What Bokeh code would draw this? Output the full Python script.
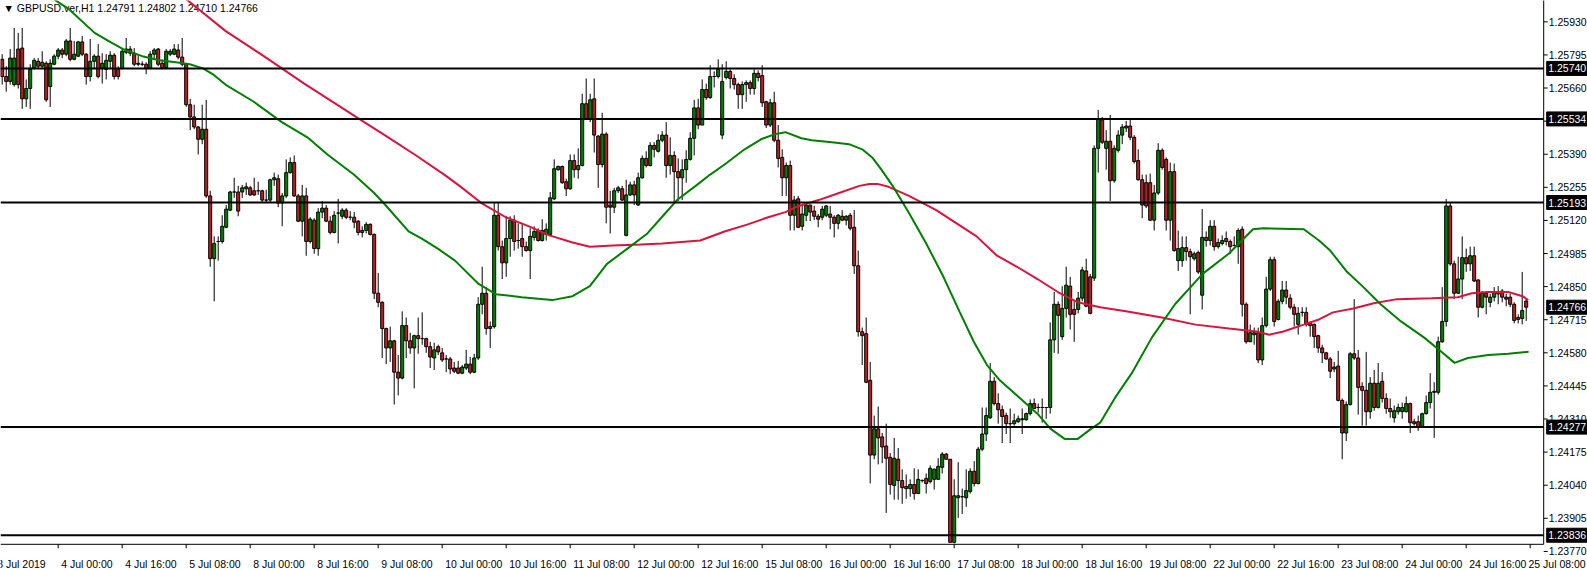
from bokeh.plotting import figure
from bokeh.models import Range1d, ColumnDataSource
from bokeh.core.properties import value
from bokeh.embed import file_html
from bokeh.resources import INLINE

symbol_title = "\u25bc GBPUSD.ver,H1  1.24791 1.24802 1.24710 1.24766"
time_labels = ["3 Jul 2019", "4 Jul 00:00", "4 Jul 16:00", "5 Jul 08:00", "8 Jul 00:00",
               "8 Jul 16:00", "9 Jul 08:00", "10 Jul 00:00", "10 Jul 16:00", "11 Jul 08:00",
               "12 Jul 00:00", "12 Jul 16:00", "15 Jul 08:00", "16 Jul 00:00", "16 Jul 16:00",
               "17 Jul 08:00", "18 Jul 00:00", "18 Jul 16:00", "19 Jul 08:00", "22 Jul 00:00",
               "22 Jul 16:00", "23 Jul 08:00", "24 Jul 00:00", "24 Jul 16:00", "25 Jul 08:00"]
time_ticks = [-16, 0, 16, 32, 48, 64, 80, 96, 112, 128, 144, 160, 176, 192, 208, 224, 240,
              256, 272, 288, 304, 320, 336, 352, 368]
price_ticks = [1.25930, 1.25795, 1.25660, 1.25525, 1.25390, 1.25255, 1.25120, 1.24985,
               1.24850, 1.24715, 1.24580, 1.24445, 1.24310, 1.24175, 1.24040, 1.23905, 1.23770]
level_lines = [1.25740, 1.25534, 1.25193, 1.24277, 1.23836]
bid_price = 1.24766

opens = [
    1.25777, 1.25707, 1.25687, 1.25674, 1.25819, 1.25823, 1.25616, 1.25658, 1.25740, 1.25769,
    1.25749, 1.25761, 1.25666, 1.25757, 1.25790, 1.25815, 1.25798, 1.25852, 1.25777, 1.25790,
    1.25848, 1.25798, 1.25707, 1.25769, 1.25790, 1.25740, 1.25736, 1.25769, 1.25794, 1.25740,
    1.25740, 1.25806, 1.25819, 1.25802, 1.25761, 1.25757, 1.25757, 1.25740, 1.25798, 1.25819,
    1.25761, 1.25744, 1.25798, 1.25798, 1.25815, 1.25786, 1.25757, 1.25592, 1.25542, 1.25501,
    1.25451, 1.25492, 1.25220, 1.24964,
    1.25034, 1.25034, 1.25092, 1.25162, 1.25236, 1.25236, 1.25236, 1.25249, 1.25253, 1.25241,
    1.25241, 1.25241, 1.25203, 1.25203, 1.25286, 1.25290, 1.25191, 1.25220, 1.25315, 1.25356,
    1.25220, 1.25117, 1.25220, 1.25034, 1.25121, 1.25005, 1.25154, 1.25170, 1.25117, 1.25071,
    1.25150, 1.25137, 1.25162, 1.25133, 1.25133, 1.25117, 1.25079, 1.25079, 1.25104, 1.25063,
    1.24823, 1.24786, 1.24679, 1.24600, 1.24629, 1.24501, 1.24477, 1.24691, 1.24629, 1.24600,
    1.24650, 1.24638, 1.24638, 1.24605,
    1.24559, 1.24605, 1.24580, 1.24555, 1.24555, 1.24518, 1.24518, 1.24497, 1.24518, 1.24534,
    1.24501, 1.24559, 1.24778, 1.24823, 1.24679, 1.24687, 1.25141, 1.25013, 1.24947, 1.25046,
    1.25121, 1.25038, 1.25046, 1.25013, 1.24997, 1.25051, 1.25079, 1.25038, 1.25063, 1.25063,
    1.25208, 1.25327, 1.25340, 1.25278, 1.25249, 1.25364, 1.25327, 1.25344, 1.25596, 1.25534,
    1.25616, 1.25464, 1.25348, 1.25472, 1.25183, 1.25174, 1.25241, 1.25249, 1.25059, 1.25224,
    1.25265, 1.25183, 1.25294, 1.25373,
    1.25344, 1.25426, 1.25402, 1.25447, 1.25468, 1.25344, 1.25385, 1.25319, 1.25294, 1.25327,
    1.25369, 1.25455, 1.25579, 1.25509, 1.25654, 1.25621, 1.25707, 1.25707, 1.25468, 1.25703,
    1.25728, 1.25699, 1.25674, 1.25633, 1.25674, 1.25682, 1.25658, 1.25720, 1.25711, 1.25604,
    1.25509, 1.25600, 1.25447, 1.25377, 1.25294, 1.25344, 1.25141, 1.25208, 1.25096, 1.25141,
    1.25183, 1.25158, 1.25137, 1.25133, 1.25141, 1.25146, 1.25133, 1.25108, 1.25137, 1.25121,
    1.25141, 1.25092, 1.24935, 1.24666,
    1.24658, 1.24468, 1.24163, 1.24270, 1.24237, 1.24200, 1.24154, 1.24039, 1.24146, 1.24059,
    1.24035, 1.24026, 1.24043, 1.24006, 1.24059, 1.24068, 1.24055, 1.24064, 1.24064, 1.24113,
    1.24167, 1.24146, 1.23807, 1.23989, 1.23993, 1.23989, 1.24014, 1.24097, 1.24047, 1.24187,
    1.24249, 1.24315, 1.24464, 1.24373, 1.24348, 1.24324, 1.24291, 1.24291, 1.24299, 1.24307,
    1.24307, 1.24332, 1.24373, 1.24357, 1.24357, 1.24357, 1.24357, 1.24633, 1.24778, 1.24646,
    1.24761, 1.24852, 1.24757, 1.24757,
    1.24803, 1.24914, 1.24890, 1.24885, 1.25414, 1.25530, 1.25414, 1.25443, 1.25282, 1.25406,
    1.25468, 1.25505, 1.25505, 1.25459, 1.25364, 1.25286, 1.25274, 1.25274, 1.25121, 1.25232,
    1.25406, 1.25369, 1.25121, 1.25319, 1.24956, 1.24956, 1.25009, 1.24993, 1.24964, 1.24989,
    1.24815, 1.25051, 1.25038, 1.25096, 1.25013, 1.25026, 1.25046, 1.25034, 1.25018, 1.25013,
    1.25084, 1.24778, 1.24625, 1.24654, 1.24662, 1.24551, 1.24691, 1.24840, 1.24960, 1.24716,
    1.24790, 1.24836, 1.24803, 1.24766,
    1.24696, 1.24745, 1.24745, 1.24700, 1.24696, 1.24650, 1.24600, 1.24580, 1.24555, 1.24514,
    1.24526, 1.24386, 1.24253, 1.24369, 1.24576, 1.24559, 1.24443, 1.24427, 1.24340, 1.24456,
    1.24357, 1.24464, 1.24394, 1.24353, 1.24315, 1.24340, 1.24340, 1.24340, 1.24373, 1.24299,
    1.24299, 1.24278, 1.24332, 1.24377, 1.24419, 1.24419, 1.24625, 1.24708, 1.25179, 1.24943,
    1.24823, 1.24881, 1.24968, 1.24943, 1.24976, 1.24877, 1.24766, 1.24823, 1.24786, 1.24807,
    1.24828, 1.24832, 1.24807, 1.24807, 1.24778, 1.24724, 1.24720, 1.24791,
]

highs = [
    1.25798, 1.25749, 1.25819, 1.25905, 1.25885, 1.25905, 1.25695, 1.25757, 1.25782, 1.25782,
    1.25810, 1.25769, 1.25777, 1.25798, 1.25823, 1.25823, 1.25860, 1.25905, 1.25852, 1.25852,
    1.25872, 1.25802, 1.25860, 1.25798, 1.25839, 1.25802, 1.25798, 1.25810, 1.25802, 1.25749,
    1.25823, 1.25864, 1.25831, 1.25823, 1.25798, 1.25769, 1.25765, 1.25810, 1.25823, 1.25823,
    1.25777, 1.25819, 1.25819, 1.25839, 1.25839, 1.25864, 1.25761, 1.25616, 1.25592, 1.25505,
    1.25592, 1.25612, 1.25241, 1.25055,
    1.25055, 1.25141, 1.25183, 1.25241, 1.25294, 1.25261, 1.25265, 1.25274, 1.25261, 1.25294,
    1.25278, 1.25245, 1.25245, 1.25290, 1.25315, 1.25307, 1.25232, 1.25369, 1.25377, 1.25385,
    1.25228, 1.25265, 1.25253, 1.25133, 1.25129, 1.25170, 1.25199, 1.25183, 1.25137, 1.25158,
    1.25208, 1.25170, 1.25170, 1.25158, 1.25154, 1.25121, 1.25096, 1.25113, 1.25108, 1.25067,
    1.24906, 1.24790, 1.24683, 1.24687, 1.24633, 1.24571, 1.24749, 1.24724, 1.24662, 1.24654,
    1.24724, 1.24745, 1.24642, 1.24625,
    1.24621, 1.24613, 1.24600, 1.24571, 1.24563, 1.24543, 1.24547, 1.24530, 1.24592, 1.24563,
    1.24576, 1.24807, 1.24931, 1.24848, 1.24708, 1.25191, 1.25191, 1.25038, 1.25137, 1.25137,
    1.25141, 1.25108, 1.25104, 1.25034, 1.25088, 1.25096, 1.25088, 1.25125, 1.25108, 1.25236,
    1.25369, 1.25344, 1.25344, 1.25290, 1.25389, 1.25389, 1.25414, 1.25637, 1.25699, 1.25637,
    1.25699, 1.25468, 1.25559, 1.25480, 1.25241, 1.25253, 1.25261, 1.25261, 1.25286, 1.25278,
    1.25282, 1.25315, 1.25385, 1.25402,
    1.25439, 1.25439, 1.25472, 1.25484, 1.25521, 1.25459, 1.25402, 1.25373, 1.25369, 1.25406,
    1.25480, 1.25612, 1.25616, 1.25695, 1.25678, 1.25753, 1.25728, 1.25777, 1.25757, 1.25769,
    1.25736, 1.25716, 1.25682, 1.25687, 1.25691, 1.25691, 1.25736, 1.25732, 1.25753, 1.25608,
    1.25616, 1.25645, 1.25509, 1.25410, 1.25356, 1.25364, 1.25220, 1.25220, 1.25183, 1.25191,
    1.25183, 1.25179, 1.25146, 1.25179, 1.25183, 1.25179, 1.25141, 1.25146, 1.25162, 1.25141,
    1.25150, 1.25162, 1.24997, 1.24683,
    1.24724, 1.24543, 1.24324, 1.24361, 1.24253, 1.24291, 1.24171, 1.24233, 1.24192, 1.24105,
    1.24084, 1.24064, 1.24109, 1.24105, 1.24064, 1.24088, 1.24121, 1.24109, 1.24150, 1.24175,
    1.24171, 1.24146, 1.24064, 1.24134, 1.24026, 1.24105, 1.24109, 1.24138, 1.24196, 1.24357,
    1.24357, 1.24538, 1.24481, 1.24415, 1.24365, 1.24336, 1.24353, 1.24332, 1.24324, 1.24353,
    1.24336, 1.24390, 1.24394, 1.24373, 1.24394, 1.24357, 1.24704, 1.24828, 1.24790, 1.24852,
    1.24931, 1.24890, 1.24790, 1.24828,
    1.24931, 1.24964, 1.24902, 1.25426, 1.25571, 1.25542, 1.25488, 1.25550, 1.25426, 1.25488,
    1.25513, 1.25526, 1.25534, 1.25468, 1.25410, 1.25307, 1.25307, 1.25311, 1.25265, 1.25435,
    1.25414, 1.25377, 1.25356, 1.25352, 1.25079, 1.25055, 1.25055, 1.25005, 1.24993, 1.24997,
    1.25166, 1.25075, 1.25121, 1.25121, 1.25046, 1.25059, 1.25075, 1.25042, 1.25055, 1.25088,
    1.25096, 1.24786, 1.24695, 1.24683, 1.24683, 1.24724, 1.24890, 1.24972, 1.24972, 1.24799,
    1.24873, 1.24873, 1.24819, 1.24778,
    1.24766, 1.24766, 1.24766, 1.24708, 1.24700, 1.24654, 1.24613, 1.24584, 1.24563, 1.24543,
    1.24588, 1.24394, 1.24382, 1.24584, 1.24799, 1.24592, 1.24460, 1.24584, 1.24481, 1.24510,
    1.24538, 1.24501, 1.24415, 1.24394, 1.24365, 1.24373, 1.24377, 1.24402, 1.24377, 1.24311,
    1.24324, 1.24336, 1.24406, 1.24497, 1.24460, 1.24646, 1.24848, 1.25208, 1.25191, 1.24956,
    1.24972, 1.25055, 1.25005, 1.25013, 1.25013, 1.24881, 1.24832, 1.24832, 1.24820, 1.24848,
    1.24852, 1.24840, 1.24820, 1.24820, 1.24786, 1.24737, 1.24910, 1.24802,
]

lows = [
    1.25674, 1.25645, 1.25674, 1.25666, 1.25658, 1.25575, 1.25583, 1.25575, 1.25736, 1.25740,
    1.25740, 1.25604, 1.25583, 1.25753, 1.25777, 1.25782, 1.25790, 1.25769, 1.25773, 1.25786,
    1.25790, 1.25674, 1.25687, 1.25740, 1.25699, 1.25678, 1.25695, 1.25740, 1.25695, 1.25695,
    1.25736, 1.25798, 1.25790, 1.25749, 1.25749, 1.25749, 1.25716, 1.25736, 1.25782, 1.25749,
    1.25736, 1.25740, 1.25790, 1.25794, 1.25777, 1.25749, 1.25583, 1.25488, 1.25492, 1.25389,
    1.25431, 1.25212, 1.24931, 1.24790,
    1.24956, 1.25026, 1.25088, 1.25158, 1.25212, 1.25137, 1.25212, 1.25224, 1.25220, 1.25220,
    1.25224, 1.25191, 1.25195, 1.25191, 1.25261, 1.25174, 1.25096, 1.25212, 1.25311, 1.25216,
    1.25113, 1.25055, 1.24976, 1.25026, 1.24984, 1.24976, 1.25129, 1.25113, 1.25063, 1.25067,
    1.25026, 1.25125, 1.25125, 1.25121, 1.25088, 1.25059, 1.25051, 1.25067, 1.25059, 1.24799,
    1.24766, 1.24559, 1.24534, 1.24543, 1.24369, 1.24406, 1.24472, 1.24559, 1.24576, 1.24435,
    1.24576, 1.24613, 1.24580, 1.24518,
    1.24510, 1.24571, 1.24543, 1.24501, 1.24493, 1.24497, 1.24493, 1.24493, 1.24510, 1.24493,
    1.24497, 1.24551, 1.24737, 1.24654, 1.24600, 1.24679, 1.24997, 1.24881, 1.24890, 1.24972,
    1.24997, 1.25005, 1.24972, 1.24993, 1.24881, 1.25038, 1.25034, 1.25034, 1.25038, 1.25055,
    1.25203, 1.25323, 1.25269, 1.25220, 1.25245, 1.25294, 1.25290, 1.25340, 1.25530, 1.25521,
    1.25397, 1.25253, 1.25336, 1.25108, 1.25067, 1.25150, 1.25232, 1.25199, 1.25055, 1.25220,
    1.25183, 1.25179, 1.25290, 1.25336,
    1.25340, 1.25377, 1.25397, 1.25439, 1.25294, 1.25307, 1.25195, 1.25199, 1.25203, 1.25274,
    1.25364, 1.25385, 1.25492, 1.25509, 1.25612, 1.25616, 1.25662, 1.25699, 1.25451, 1.25695,
    1.25658, 1.25654, 1.25575, 1.25575, 1.25604, 1.25633, 1.25633, 1.25687, 1.25583, 1.25497,
    1.25501, 1.25439, 1.25336, 1.25220, 1.25220, 1.25079, 1.25079, 1.25088, 1.25079, 1.25117,
    1.25117, 1.25121, 1.25092, 1.25121, 1.25133, 1.25084, 1.25051, 1.25084, 1.25117, 1.25100,
    1.25079, 1.24902, 1.24646, 1.24530,
    1.24456, 1.24047, 1.24146, 1.24125, 1.24130, 1.23927, 1.24002, 1.23981, 1.23981, 1.23964,
    1.23985, 1.23993, 1.23981, 1.24006, 1.24051, 1.24006, 1.24047, 1.24022, 1.24064, 1.24088,
    1.24146, 1.23807, 1.23803, 1.23907, 1.23923, 1.23952, 1.24006, 1.24035, 1.24043, 1.24179,
    1.24220, 1.24311, 1.24365, 1.24291, 1.24212, 1.24249, 1.24212, 1.24283, 1.24295, 1.24249,
    1.24303, 1.24324, 1.24353, 1.24336, 1.24295, 1.24311, 1.24332, 1.24580, 1.24576, 1.24633,
    1.24724, 1.24675, 1.24625, 1.24741,
    1.24790, 1.24766, 1.24737, 1.24873, 1.25315, 1.25431, 1.25327, 1.25199, 1.25274, 1.25397,
    1.25431, 1.25480, 1.25447, 1.25352, 1.25282, 1.25129, 1.25170, 1.25117, 1.25079, 1.25224,
    1.25327, 1.25079, 1.25038, 1.24993, 1.24914, 1.24931, 1.24956, 1.24737, 1.24956, 1.24902,
    1.24757, 1.25013, 1.25018, 1.24997, 1.25005, 1.25018, 1.25018, 1.24984, 1.25013, 1.24943,
    1.24728, 1.24617, 1.24625, 1.24613, 1.24538, 1.24530, 1.24683, 1.24832, 1.24687, 1.24712,
    1.24778, 1.24778, 1.24757, 1.24687,
    1.24654, 1.24728, 1.24687, 1.24646, 1.24600, 1.24580, 1.24538, 1.24551, 1.24477, 1.24501,
    1.24382, 1.24146, 1.24220, 1.24365, 1.24551, 1.24328, 1.24283, 1.24283, 1.24311, 1.24344,
    1.24353, 1.24377, 1.24332, 1.24315, 1.24295, 1.24328, 1.24311, 1.24336, 1.24253, 1.24283,
    1.24262, 1.24274, 1.24328, 1.24353, 1.24233, 1.24410, 1.24621, 1.24687, 1.24935, 1.24799,
    1.24820, 1.24799, 1.24910, 1.24914, 1.24869, 1.24724, 1.24761, 1.24737, 1.24766, 1.24790,
    1.24778, 1.24786, 1.24770, 1.24766, 1.24700, 1.24700, 1.24696, 1.24710,
]

closes = [
    1.25707, 1.25687, 1.25782, 1.25782, 1.25674, 1.25616, 1.25658, 1.25736, 1.25773, 1.25749,
    1.25765, 1.25612, 1.25761, 1.25790, 1.25815, 1.25798, 1.25852, 1.25777, 1.25798, 1.25848,
    1.25798, 1.25707, 1.25769, 1.25790, 1.25707, 1.25761, 1.25773, 1.25794, 1.25707, 1.25707,
    1.25810, 1.25819, 1.25802, 1.25757, 1.25757, 1.25757, 1.25740, 1.25798, 1.25815, 1.25757,
    1.25740, 1.25810, 1.25810, 1.25819, 1.25786, 1.25757, 1.25592, 1.25542, 1.25501, 1.25451,
    1.25492, 1.25220, 1.24964, 1.25026,
    1.25034, 1.25096, 1.25166, 1.25236, 1.25236, 1.25158, 1.25253, 1.25257, 1.25224, 1.25224,
    1.25241, 1.25203, 1.25203, 1.25286, 1.25294, 1.25191, 1.25220, 1.25315, 1.25356, 1.25220,
    1.25117, 1.25220, 1.25034, 1.25125, 1.25005, 1.25154, 1.25170, 1.25117, 1.25071, 1.25141,
    1.25150, 1.25162, 1.25133, 1.25133, 1.25113, 1.25071, 1.25071, 1.25104, 1.25063, 1.24823,
    1.24786, 1.24679, 1.24600, 1.24629, 1.24501, 1.24477, 1.24691, 1.24629, 1.24600, 1.24650,
    1.24638, 1.24638, 1.24605, 1.24563,
    1.24592, 1.24584, 1.24551, 1.24555, 1.24514, 1.24505, 1.24497, 1.24522, 1.24534, 1.24501,
    1.24559, 1.24778, 1.24823, 1.24679, 1.24687, 1.25141, 1.25013, 1.24947, 1.25046, 1.25121,
    1.25034, 1.25038, 1.25013, 1.24997, 1.25055, 1.25075, 1.25038, 1.25079, 1.25084, 1.25212,
    1.25331, 1.25340, 1.25274, 1.25249, 1.25364, 1.25327, 1.25344, 1.25596, 1.25534, 1.25612,
    1.25468, 1.25348, 1.25472, 1.25174, 1.25174, 1.25241, 1.25253, 1.25203, 1.25224, 1.25265,
    1.25224, 1.25294, 1.25373, 1.25344,
    1.25426, 1.25410, 1.25447, 1.25468, 1.25344, 1.25385, 1.25319, 1.25294, 1.25327, 1.25369,
    1.25455, 1.25579, 1.25509, 1.25654, 1.25621, 1.25707, 1.25707, 1.25736, 1.25687, 1.25728,
    1.25699, 1.25674, 1.25633, 1.25674, 1.25682, 1.25658, 1.25720, 1.25703, 1.25600, 1.25509,
    1.25600, 1.25447, 1.25373, 1.25294, 1.25344, 1.25141, 1.25203, 1.25092, 1.25146, 1.25183,
    1.25154, 1.25137, 1.25125, 1.25166, 1.25179, 1.25133, 1.25108, 1.25141, 1.25121, 1.25137,
    1.25088, 1.24935, 1.24666, 1.24650,
    1.24460, 1.24163, 1.24270, 1.24233, 1.24196, 1.24150, 1.24043, 1.24150, 1.24059, 1.24030,
    1.24026, 1.24043, 1.24006, 1.24064, 1.24059, 1.24047, 1.24109, 1.24105, 1.24117, 1.24167,
    1.24146, 1.23807, 1.23997, 1.23997, 1.23993, 1.24018, 1.24097, 1.24047, 1.24187, 1.24249,
    1.24324, 1.24464, 1.24373, 1.24348, 1.24320, 1.24291, 1.24291, 1.24303, 1.24311, 1.24311,
    1.24332, 1.24373, 1.24353, 1.24357, 1.24357, 1.24357, 1.24633, 1.24778, 1.24733, 1.24761,
    1.24856, 1.24737, 1.24737, 1.24803,
    1.24918, 1.24770, 1.24741, 1.25414, 1.25534, 1.25439, 1.25443, 1.25282, 1.25414, 1.25468,
    1.25501, 1.25497, 1.25459, 1.25360, 1.25286, 1.25183, 1.25179, 1.25121, 1.25232, 1.25406,
    1.25336, 1.25121, 1.25319, 1.24997, 1.25005, 1.25009, 1.24993, 1.24972, 1.24984, 1.24910,
    1.25051, 1.25038, 1.25096, 1.25013, 1.25030, 1.25038, 1.25034, 1.25013, 1.25018, 1.25079,
    1.24778, 1.24625, 1.24662, 1.24662, 1.24551, 1.24691, 1.24840, 1.24960, 1.24708, 1.24790,
    1.24836, 1.24807, 1.24766, 1.24737,
    1.24741, 1.24745, 1.24696, 1.24691, 1.24646, 1.24600, 1.24580, 1.24555, 1.24505, 1.24522,
    1.24386, 1.24253, 1.24369, 1.24576, 1.24559, 1.24439, 1.24427, 1.24340, 1.24456, 1.24357,
    1.24456, 1.24394, 1.24353, 1.24340, 1.24344, 1.24357, 1.24357, 1.24373, 1.24295, 1.24291,
    1.24278, 1.24332, 1.24377, 1.24419, 1.24423, 1.24625, 1.24708, 1.25179, 1.24943, 1.24823,
    1.24881, 1.24968, 1.24943, 1.24976, 1.24873, 1.24766, 1.24823, 1.24807, 1.24807, 1.24828,
    1.24820, 1.24807, 1.24799, 1.24778, 1.24712, 1.24716, 1.24753, 1.24766,
]

# moving averages read at sample bars (bar 0 = 4 Jul 00:00)
green_ma_bar = [-3, 2.5, 9.1, 13.4, 16.7, 21.0, 25.3, 29.4, 32.9, 36.2, 38.7, 41.8, 48.9, 55.9,
                62.3, 67.3, 73.9, 79.0, 81.8, 87.6, 90.9, 94.9, 99.2, 105.1, 109.4, 115.9, 123.5,
                128.6, 132.9, 137.2, 142.3, 147.3, 151.1, 154.7, 159.7, 163.0, 166.6, 171.6, 175.7,
                179.2, 181.8, 185.8, 188.4, 193.4, 197.7, 201.0, 203.5, 205.8, 208.6, 212.7, 217.0,
                221.3, 225.3, 228.9, 232.2, 235.4, 239.7, 244.8, 248.1, 251.6, 254.9, 258.2, 260.5,
                264.1, 268.4, 273.4, 279.2, 286.1, 292.7, 298.7, 301.3, 311.4, 315.2, 318.0, 322.0,
                326.3, 330.6, 335.7, 341.5, 345.8, 349.1, 352.4, 357.5, 362.5, 367.6]
green_ma = [1.26042, 1.25984, 1.25885, 1.25844, 1.25815, 1.25790, 1.25773, 1.25765, 1.25757,
            1.25740, 1.25716, 1.25674, 1.25604, 1.25521, 1.25459, 1.25389, 1.25307, 1.25232,
            1.25183, 1.25075, 1.25046, 1.25005, 1.24956, 1.24861, 1.24819, 1.24807, 1.24795,
            1.24811, 1.24852, 1.24943, 1.25005, 1.25067, 1.25137, 1.25203, 1.25265, 1.25307,
            1.25348, 1.25410, 1.25451, 1.25472, 1.25480, 1.25455, 1.25447, 1.25439, 1.25431,
            1.25410, 1.25377, 1.25327, 1.25261, 1.25150, 1.25026, 1.24890, 1.24749, 1.24625,
            1.24530, 1.24468, 1.24406, 1.24332, 1.24270, 1.24229, 1.24229, 1.24270, 1.24295,
            1.24394, 1.24497, 1.24642, 1.24778, 1.24902, 1.24985, 1.25084, 1.25088, 1.25084,
            1.25038, 1.24997, 1.24914, 1.24848, 1.24778, 1.24708, 1.24642, 1.24584, 1.24539,
            1.24559, 1.24571, 1.24576, 1.24584]
red_ma_bar = [29.9, 32.4, 41.8, 51.4, 61.5, 76.5, 82.5, 89.1, 96.5, 100.0, 105.8, 111.9, 117.7,
              122.8, 128.6, 132.9, 138.7, 145.6, 151.1, 160.5, 166.6, 172.4, 177.5, 181.8, 185.1,
              190.1, 195.2, 200.3, 202.8, 204.8, 207.6, 212.7, 219.5, 224.6, 229.6, 234.7, 239.7,
              244.8, 249.9, 254.9, 260.5, 267.3, 275.9, 284.3, 292.7, 299.5, 302.8, 306.3, 311.4,
              315.2, 318.7, 323.8, 328.9, 334.7, 343.3, 349.9, 353.4, 357.5, 362.5, 366.1, 367.5]
red_ma = [1.26042, 1.26017, 1.25893, 1.25790, 1.25678, 1.25521, 1.25459, 1.25389, 1.25307,
          1.25265, 1.25191, 1.25133, 1.25096, 1.25059, 1.25030, 1.25013, 1.25018, 1.25022,
          1.25026, 1.25038, 1.25075, 1.25104, 1.25133, 1.25154, 1.25179, 1.25203, 1.25232,
          1.25261, 1.25269, 1.25269, 1.25257, 1.25220, 1.25162, 1.25108, 1.25055, 1.24976,
          1.24931, 1.24881, 1.24828, 1.24786, 1.24766, 1.24749, 1.24724, 1.24695, 1.24679,
          1.24667, 1.24654, 1.24667, 1.24695, 1.24716, 1.24745, 1.24761, 1.24782, 1.24799,
          1.24803, 1.24807, 1.24823, 1.24828, 1.24828, 1.24811, 1.24795]

# ---------------------------------------------------------------- layout (canvas pixels)
W, H = 1607, 577
BAR0_PX = 57.7          # canvas x of bar 0
PX_PER_BAR = 4.0
AXIS_PX = 1543.2        # canvas x of the price scale line
TOP_PRICE = 1.26017     # price at canvas top
PRICE_PER_PX = 0.000040786
AXIS_BOTTOM_PX = 543.8  # canvas y of the time scale line
LABEL_MAX_START_PX = 1528.0


def dx(px):
    return px / PX_PER_BAR


def dy(px):
    return px * PRICE_PER_PX


XL = dx(0 - BAR0_PX)
XR = dx(W - BAR0_PX)
X1 = dx(AXIS_PX - BAR0_PX)
YT = TOP_PRICE
YB = TOP_PRICE - dy(H)
Y0 = TOP_PRICE - dy(AXIS_BOTTOM_PX)

FONT = "Liberation Sans"
FS = "10.5px"
BULL = "#008000"
BEAR = "#B22222"

n = min(len(opens), len(highs), len(lows), len(closes))
first_bar = -14
bars = list(range(first_bar, first_bar + n))
tops = [max(opens[i], closes[i]) for i in range(n)]
bots = [min(opens[i], closes[i]) for i in range(n)]
cols = [BULL if closes[i] > opens[i] else (BEAR if closes[i] < opens[i] else "black") for i in range(n)]
src = ColumnDataSource(dict(x=bars, o=opens[:n], h=highs[:n], l=lows[:n], c=closes[:n],
                            top=tops, bot=bots, col=cols))

p = figure(width=W, height=H, output_backend="svg", toolbar_location=None,
           x_range=Range1d(XL, XR), y_range=Range1d(YB, YT),
           x_axis_type=None, y_axis_type=None, min_border=0)
p.min_border_left = p.min_border_right = p.min_border_top = p.min_border_bottom = 0
p.outline_line_color = None
p.grid.visible = False
p.background_fill_color = "white"
p.border_fill_color = "white"

txt = dict(text_font=value(FONT), text_font_size=value(FS))

# symbol header (under the lines, as in the terminal)
p.text(x=[XL + dx(3)], y=[YT - dy(1.5)], text=[symbol_title], text_baseline="top",
       text_align="left", text_color="black", **txt)

# candles
p.segment(x0="x", y0="l", x1="x", y1="h", source=src, line_color="black", line_width=1)
p.vbar(x="x", width=0.75, top="top", bottom="bot", source=src,
       fill_color="col", line_color="black", line_width=1)

# moving averages
p.line(red_ma_bar, red_ma, line_color="#DC143C", line_width=2)
p.line(green_ma_bar, green_ma, line_color=BULL, line_width=2)

# horizontal levels
p.segment(x0=[XL] * len(level_lines), x1=[X1] * len(level_lines), y0=level_lines,
          y1=level_lines, line_color="black", line_width=2)

# price scale
p.segment(x0=[X1], x1=[X1], y0=[Y0], y1=[YT + dy(5)], line_color="black", line_width=1)
p.segment(x0=[X1] * len(price_ticks), x1=[X1 + dx(4)] * len(price_ticks),
          y0=price_ticks, y1=price_ticks, line_color="black", line_width=1)
p.text(x=[X1 + dx(5)] * len(price_ticks), y=price_ticks,
       text=[f"{t:.5f}" for t in price_ticks], text_baseline="middle", text_align="left",
       text_color="black", **txt)

# time scale
p.segment(x0=[XL], x1=[X1], y0=[Y0], y1=[Y0], line_color="black", line_width=1)
p.segment(x0=time_ticks, x1=time_ticks, y0=[Y0] * len(time_ticks),
          y1=[Y0 - dy(4)] * len(time_ticks), line_color="black", line_width=1)
label_x = [min(t + dx(3), dx(LABEL_MAX_START_PX - BAR0_PX)) for t in time_ticks]
p.text(x=label_x, y=[Y0 - dy(20)] * len(time_ticks), text=time_labels,
       text_baseline="middle", text_align="left", text_color="black", **txt)

# black price boxes (levels and current bid)
boxes = level_lines + [bid_price]
p.rect(x=[X1 + dx(24.5)] * len(boxes), y=boxes, width=43, height=14,
       width_units="screen", height_units="screen", fill_color="black", line_color="black")
p.text(x=[X1 + dx(4.5)] * len(boxes), y=boxes, text=[f"{v:.5f}" for v in boxes],
       text_baseline="middle", text_align="left", text_color="white", **txt)

open("out.html", "w").write(file_html(p, INLINE))
